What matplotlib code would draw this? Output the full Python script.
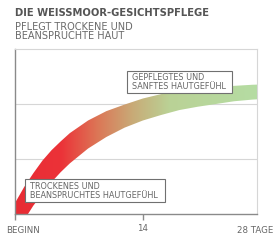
import numpy as np
import matplotlib
matplotlib.use("Agg")
import matplotlib.pyplot as plt
from matplotlib.colors import LinearSegmentedColormap
from matplotlib.patches import Rectangle

# ---- data ----
days = [0, 1, 2, 3, 4, 5, 6, 8, 10, 12, 14, 16, 18, 20, 22, 24, 26, 28]
band_upper = [0.20, 0.49, 0.74, 0.97, 1.16, 1.32, 1.47, 1.70, 1.87, 1.99,
              2.10, 2.18, 2.23, 2.27, 2.30, 2.33, 2.35, 2.36]
band_lower = [-0.40, -0.11, 0.15, 0.37, 0.58, 0.76, 0.92, 1.19, 1.40, 1.57,
              1.70, 1.80, 1.89, 1.95, 2.00, 2.05, 2.08, 2.10]
x_ticks = [0, 14]
x_tick_labels = ["", "14"]
start_label = "BEGINN"
end_label = "28 TAGE"
title = "DIE WEISSMOOR-GESICHTSPFLEGE"
subtitle_lines = ["PFLEGT TROCKENE UND", "BEANSPRUCHTE HAUT"]
start_note = ["TROCKENES UND", "BEANSPRUCHTES HAUTGEFÜHL"]
end_note = ["GEPFLEGTES UND", "SANFTES HAUTGEFÜHL"]

W, H = 275, 240
fig = plt.figure(figsize=(W / 100, H / 100), dpi=100)
fig.patch.set_facecolor("white")

def fx(px):
    return px / W

def fy(py):
    return (H - py) / H

ax = fig.add_axes([fx(15), fy(214), (257 - 15) / W, (214 - 49) / H])

# gradient band
stops = [(0.0, (232, 44, 52)), (5 / 28, (236, 50, 56)), (9 / 28, (220, 118, 86)),
         (13 / 28, (200, 172, 120)), (17 / 28, (186, 210, 150)), (1.0, (180, 222, 165))]
cmap = LinearSegmentedColormap.from_list(
    "band", [(p, tuple(c / 255 for c in rgb)) for p, rgb in stops])
poly = ax.fill_between(days, band_lower, band_upper, facecolor="none",
                       edgecolor="none", zorder=2)
grad = np.linspace(0, 1, 512).reshape(1, -1)
im = ax.imshow(grad, extent=[0, 28, -0.5, 3], aspect="auto", cmap=cmap,
               origin="lower", zorder=2, interpolation="bilinear")
im.set_clip_path(poly.get_paths()[0], transform=ax.transData)
ax.set_xlim(0, 26.5)
ax.set_ylim(0, 3)

# grid & spines
ax.set_yticks([1, 2])
ax.yaxis.grid(True, color="#d6d6d6", linewidth=0.8)
ax.set_axisbelow(True)
ax.tick_params(axis="y", left=False, labelleft=False)
for s in ["top", "right"]:
    ax.spines[s].set_color("#d6d6d6")
    ax.spines[s].set_linewidth(0.8)
for s in ["left", "bottom"]:
    ax.spines[s].set_color("#8a8a8a")
    ax.spines[s].set_linewidth(1.0)
ax.set_xticks(x_ticks)
ax.set_xticklabels(x_tick_labels)
ax.tick_params(axis="x", direction="out", length=4.5, width=1.0, color="#8a8a8a",
               labelsize=6.2, labelcolor="#666666", pad=3.0)

# texts
fig.text(fx(15), fy(16), title, fontsize=7.2, fontweight="bold", color="#555555",
         va="baseline", ha="left")
fig.text(fx(15), fy(29.8), subtitle_lines[0], fontsize=7.0, color="#6a6a6a",
         va="baseline", ha="left")
fig.text(fx(15), fy(38.8), subtitle_lines[1], fontsize=7.0, color="#6a6a6a",
         va="baseline", ha="left")
fig.text(fx(6), fy(233), start_label, fontsize=6.2, color="#666666",
         va="baseline", ha="left")
fig.text(fx(273), fy(233), end_label, fontsize=6.2, color="#666666",
         va="baseline", ha="right")

# note boxes
def note_box(x0, y0, x1, y1, lines, tx, b1, b2):
    r = Rectangle((fx(x0), fy(y1)), fx(x1) - fx(x0), fy(y0) - fy(y1),
                  transform=fig.transFigure, facecolor="white",
                  edgecolor="#707070", linewidth=0.8, zorder=4)
    fig.add_artist(r)
    fig.text(fx(tx), fy(b1), lines[0], fontsize=5.9, color="#666666",
             va="baseline", ha="left", zorder=5)
    fig.text(fx(tx), fy(b2), lines[1], fontsize=5.9, color="#666666",
             va="baseline", ha="left", zorder=5)

note_box(25, 179, 165, 202, start_note, 29.5, 189.3, 197.5)
note_box(127, 71, 232, 93, end_note, 131.5, 80.3, 88.7)

fig.savefig("out.png", dpi=100)
